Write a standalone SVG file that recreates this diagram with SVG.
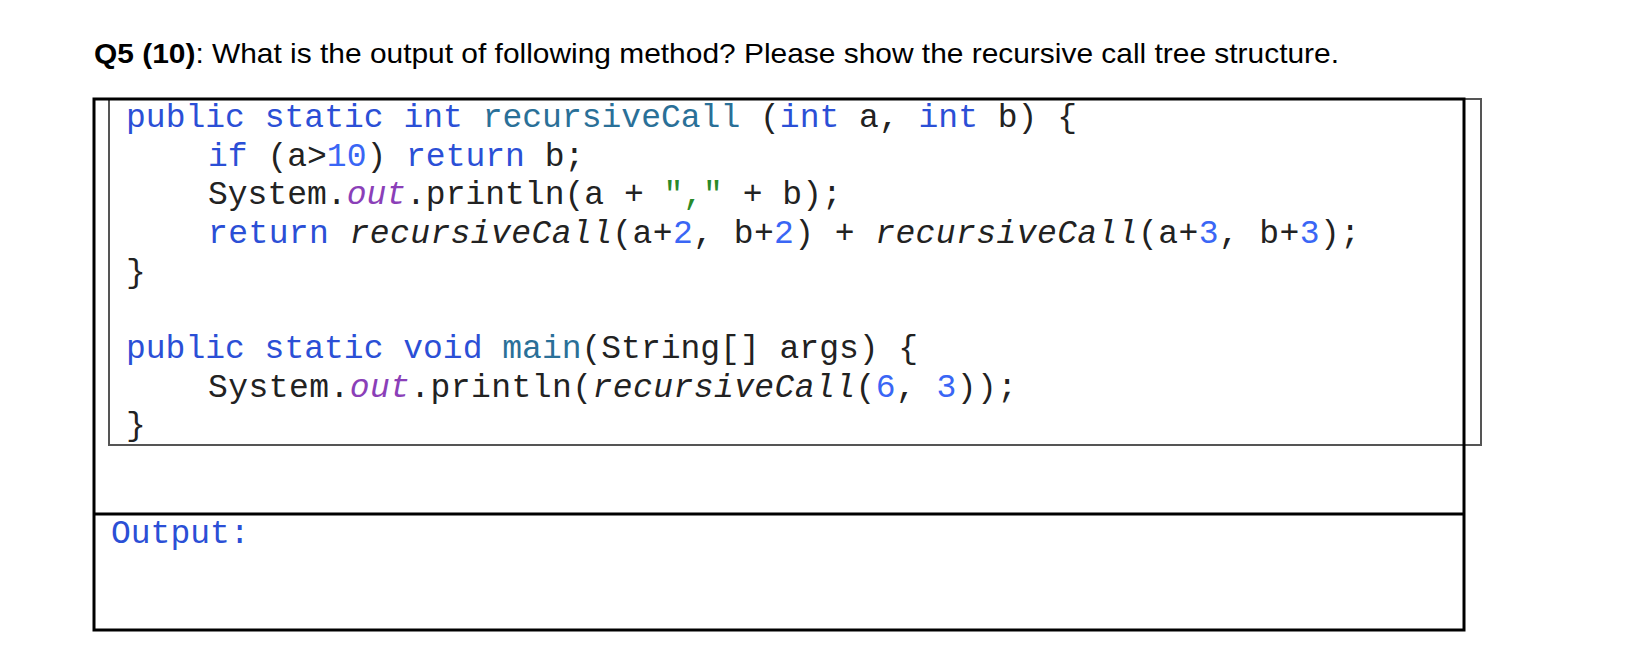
<svg xmlns="http://www.w3.org/2000/svg" width="1628" height="670" viewBox="0 0 1628 670">
<style>
.c{font-family:"Liberation Mono","Courier New",monospace;font-size:33px;fill:#222}
.k{fill:#2b4fd6}.m{fill:#2a7098}.n{fill:#3a66f5}.s{fill:#2a8a2a}.o{fill:#8b3fb8;font-style:italic}.i{font-style:italic}
.t{font-family:"Liberation Sans","Open Sans",Arial,sans-serif;font-size:28px;fill:#000}
</style>
<rect width="1628" height="670" fill="#fff"/>
<g id="title"><text class="t" x="94" y="63" textLength="1245" lengthAdjust="spacingAndGlyphs"><tspan font-weight="bold">Q5 (10)</tspan>: What is the output of following method? Please show the recursive call tree structure.</text></g>
<g id="frame" fill="none">
<rect x="109" y="99" width="1372" height="346" stroke="#555" stroke-width="2"/>
<rect x="94" y="99" width="1370" height="531" stroke="#000" stroke-width="3"/>
<line x1="94" y1="514" x2="1464" y2="514" stroke="#000" stroke-width="3"/>
</g>
<g id="code" xml:space="preserve">
<text class="c" x="126" y="127" textLength="951"><tspan class="k">public static int</tspan> <tspan class="m">recursiveCall</tspan> (<tspan class="k">int</tspan> a, <tspan class="k">int</tspan> b) {</text>
<text class="c" x="208" y="166"><tspan class="k">if</tspan> (a&gt;<tspan class="n">10</tspan>) <tspan class="k">return</tspan> b;</text>
<text class="c" x="208" y="204">System.<tspan class="o">out</tspan>.println(a + <tspan class="s">","</tspan> + b);</text>
<text class="c" x="208" y="243" textLength="1152"><tspan class="k">return</tspan> <tspan class="i">recursiveCall</tspan>(a+<tspan class="n">2</tspan>, b+<tspan class="n">2</tspan>) + <tspan class="i">recursiveCall</tspan>(a+<tspan class="n">3</tspan>, b+<tspan class="n">3</tspan>);</text>
<text class="c" x="126" y="282">}</text>
<text class="c" x="126" y="358"><tspan class="k">public static void</tspan> <tspan class="m">main</tspan>(String[] args) {</text>
<text class="c" x="208" y="397" textLength="809">System.<tspan class="o">out</tspan>.println(<tspan class="i">recursiveCall</tspan>(<tspan class="n">6</tspan>, <tspan class="n">3</tspan>));</text>
<text class="c" x="126" y="435">}</text>
</g>
<g id="output"><text class="c k" x="111" y="543">Output:</text></g>
</svg>
